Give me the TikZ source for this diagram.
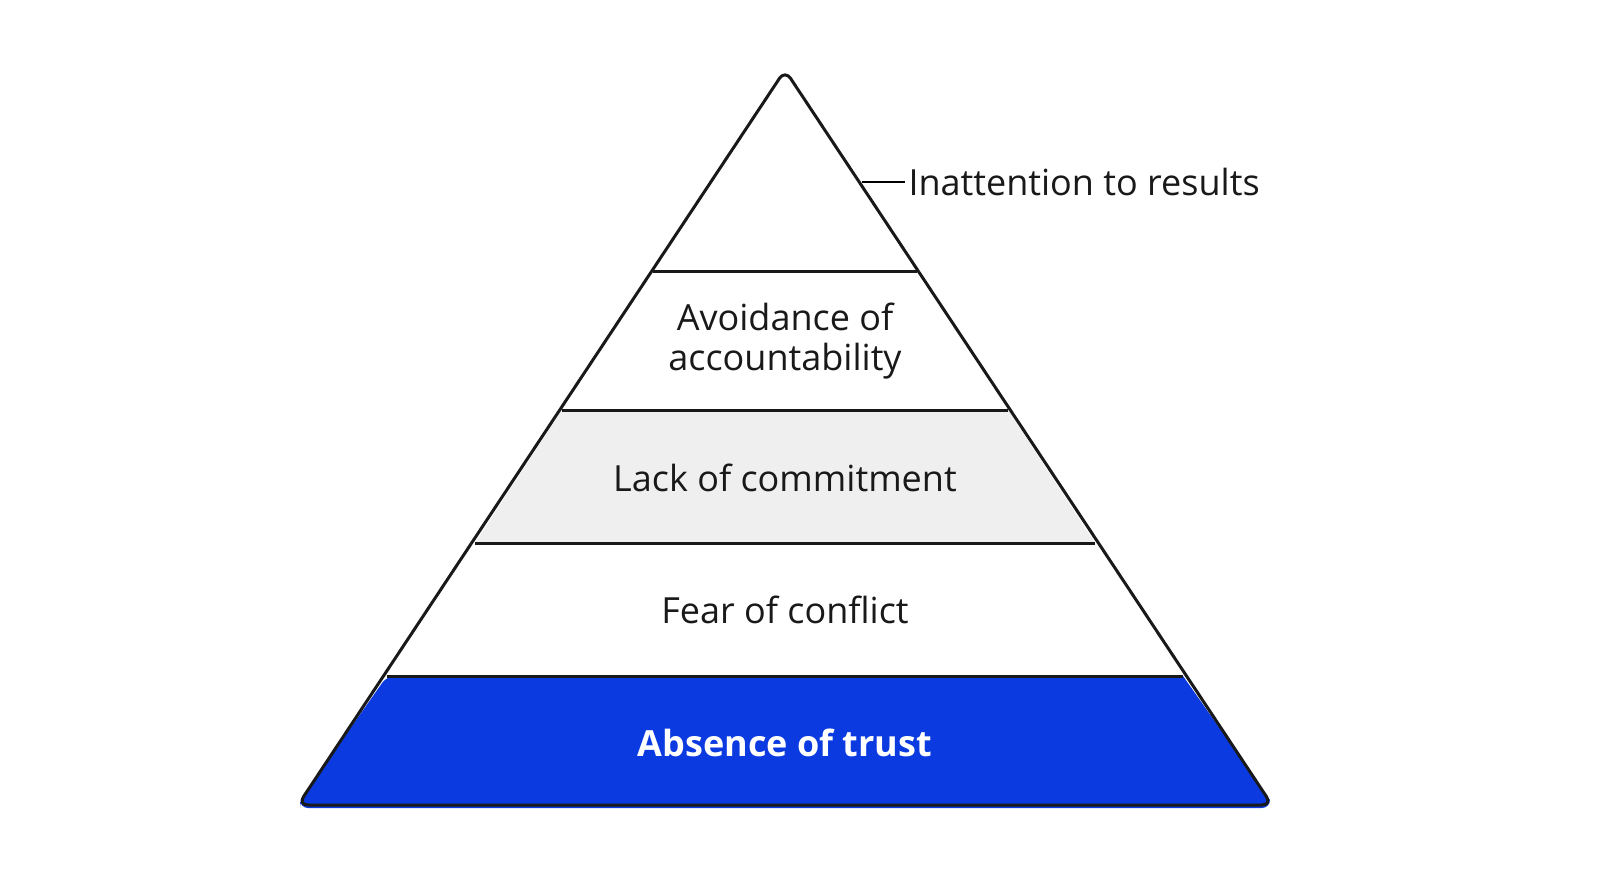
\documentclass[tikz,border=0pt]{standalone}
\usepackage{fontspec}
\setmainfont{Open Sans}
\begin{document}
\begin{tikzpicture}[x=1pt,y=-1pt,
  band/.style={draw=black!90,line width=3pt,line join=round},
  lbl/.style={font=\fontsize{36}{44}\selectfont,text=black!90,align=center}]
\useasboundingbox (0,0) rectangle (1600,893);
\definecolor{tblue}{HTML}{0B3BE0}
\definecolor{lgray}{HTML}{EFEFEF}
\fill[tblue] (387,676) -- (1183,676) -- (1270,800) [rounded corners=8pt] -- (1270,808) -- (300,808) -- (300,800) -- cycle;
\fill[lgray] (562,410) -- (1008,410) -- (1095,543) -- (475,543) -- cycle;
\draw[band,rounded corners=10pt] (785,70) -- (1272,805) -- (298,805) -- cycle;
\draw[band] (653,272) -- (917,272);
\draw[band] (562,410) -- (1008,410);
\draw[band] (475,543) -- (1095,543);
\draw[band] (387,676) -- (1183,676);
\node[lbl] (r) at (785,341) {Avoidance of\\[-4pt]accountability};
\node[lbl] (c) at (785,478) {Lack of commitment};
\node[lbl] (f) at (785,610) {Fear of conflict};
\node[lbl,text=white,font=\fontsize{36}{44}\selectfont\bfseries] (t) at (785,743) {Absence of trust};
\node[lbl,anchor=west] (i) at (905,182) {Inattention to results};
\coordinate (le) at (862,182);
\draw[line width=2pt] (le) -- (i.west);
\end{tikzpicture}
\end{document}
